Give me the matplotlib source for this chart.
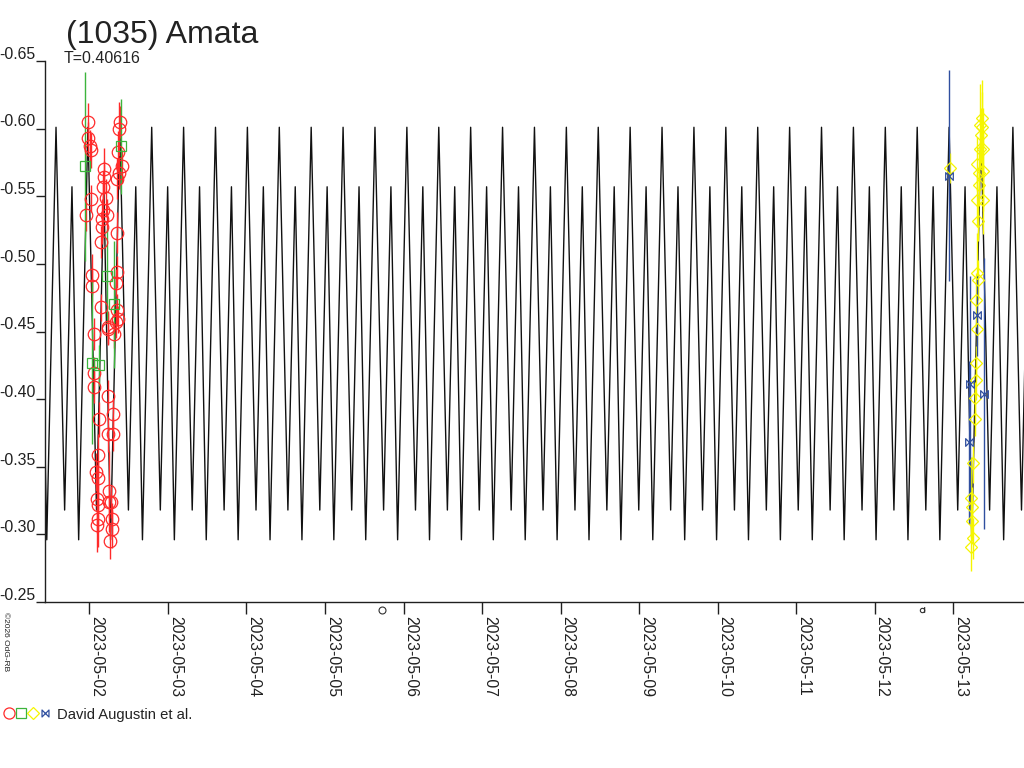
import numpy as np
import matplotlib
matplotlib.use("Agg")
import matplotlib.pyplot as plt
from matplotlib.path import Path
from matplotlib.lines import Line2D
from matplotlib.transforms import ScaledTranslation

plt.rcParams['font.family'] = ['Liberation Sans', 'DejaVu Sans']

# ---------------- data (time = days since 2023-05-02 00:00 UT) ----------------
TITLE = "(1035) Amata"
PERIOD_LABEL = "T=0.40616"
LC_PERIOD = 0.40616
LC_EPOCH = 4.855                      # time of a primary maximum
LC_PHASE = [0.0, 0.27, 0.50, 0.71, 1.0]
LC_MAG = [-0.601, -0.318, -0.557, -0.296, -0.601]

red_t = [-0.014, -0.022, 0.008, 0.020, 0.190, 0.190, 0.169, 0.020, 0.208, -0.047,
         0.177, 0.220, 0.157, 0.157, 0.148, 0.390, 0.381, 0.368, 0.411, 0.377,
         0.348, 0.348, 0.029, 0.037, 0.348, 0.335, 0.148, 0.348, 0.360, 0.241,
         0.059, 0.233, 0.317, 0.339, 0.059, 0.059, 0.241, 0.297, 0.122, 0.241,
         0.297, 0.113, 0.080, 0.113, 0.253, 0.101, 0.106, 0.250, 0.271, 0.106,
         0.093, 0.284, 0.284, 0.262]
red_mag = [-0.605, -0.593, -0.587, -0.584, -0.570, -0.564, -0.557, -0.548, -0.549, -0.536,
           -0.540, -0.536, -0.533, -0.527, -0.516, -0.605, -0.600, -0.583, -0.572, -0.567,
           -0.563, -0.523, -0.492, -0.484, -0.494, -0.486, -0.468, -0.466, -0.459, -0.453,
           -0.448, -0.452, -0.448, -0.457, -0.419, -0.409, -0.402, -0.389, -0.385, -0.374,
           -0.374, -0.359, -0.346, -0.342, -0.332, -0.326, -0.322, -0.324, -0.324, -0.311,
           -0.307, -0.311, -0.304, -0.295]
red_err = [0.014, 0.012, 0.012, 0.013, 0.016, 0.012, 0.012, 0.010, 0.014, 0.012,
           0.020, 0.012, 0.015, 0.012, 0.012, 0.012, 0.020, 0.015, 0.012, 0.012,
           0.015, 0.015, 0.015, 0.012, 0.012, 0.010, 0.010, 0.012, 0.010, 0.012,
           0.012, 0.012, 0.010, 0.012, 0.012, 0.012, 0.012, 0.012, 0.013, 0.013,
           0.012, 0.015, 0.014, 0.012, 0.030, 0.025, 0.020, 0.012, 0.012, 0.020,
           0.020, 0.012, 0.014, 0.013]

green_t = [-0.056, 0.402, 0.220, 0.313, 0.029, 0.122]
green_mag = [-0.572, -0.587, -0.491, -0.470, -0.427, -0.425]
green_err = [0.070, 0.035, 0.035, 0.047, 0.060, 0.015]

yellow_t = [10.959, 11.362, 11.341, 11.370, 11.350, 11.383, 11.341, 11.306, 11.383, 11.332,
            11.324, 11.299, 11.383, 11.316, 11.299, 11.316, 11.290, 11.299, 11.290, 11.290,
            11.277, 11.277, 11.256, 11.227, 11.243, 11.243, 11.248, 11.230]
yellow_mag = [-0.571, -0.608, -0.603, -0.601, -0.595, -0.585, -0.585, -0.574, -0.569, -0.567,
              -0.558, -0.547, -0.547, -0.532, -0.493, -0.488, -0.473, -0.452, -0.427, -0.414,
              -0.401, -0.385, -0.353, -0.327, -0.320, -0.310, -0.297, -0.291]
yellow_err = [0.011, 0.019, 0.030, 0.035, 0.020, 0.030, 0.015, 0.020, 0.030, 0.015,
              0.015, 0.020, 0.025, 0.015, 0.030, 0.015, 0.020, 0.012, 0.012, 0.015,
              0.012, 0.012, 0.015, 0.030, 0.015, 0.015, 0.015, 0.018]

blue_t = [10.942, 11.306, 11.213, 11.396, 11.205]
blue_mag = [-0.565, -0.462, -0.411, -0.404, -0.368]
blue_err = [0.078, 0.030, 0.080, 0.100, 0.060]

DATE_TICKS = list(range(12))
DATE_LABELS = ["2023-05-%02d" % d for d in range(2, 14)]
MAG_TICKS = [-0.65, -0.60, -0.55, -0.50, -0.45, -0.40, -0.35, -0.30, -0.25]
MAG_LABELS = ["-0.65", "-0.60", "-0.55", "-0.50", "-0.45", "-0.40", "-0.35", "-0.30", "-0.25"]
MOON_FULL_T = 3.73
MOON_QUARTER_T = 10.60
LEGEND_TEXT = "David Augustin et al."
COPYRIGHT = "\u00a92026 OdG-RB"

# ---------------- figure ----------------
W, H = 1024, 768
fig = plt.figure(figsize=(W / 100, H / 100), dpi=100)
ax = fig.add_axes([45 / W, 1 - 602 / H, 1 - 45 / W, (602 - 61) / H])

# model lightcurve: one period shape repeated over the plotted span
lc_x, lc_y = [], []
for n in range(-16, 20):
    for p, m in zip(LC_PHASE[:-1], LC_MAG[:-1]):
        lc_x.append(LC_EPOCH + (n + p) * LC_PERIOD)
        lc_y.append(m)
ax.plot(lc_x, lc_y, color='#111111', lw=1.0, zorder=2)

RED = '#ff2a2a'
GREEN = '#3cb43c'
YELLOW = '#f5f500'
BLUE = '#2f4f9f'

blue_marker = Path([(-1, -1), (-1, 1), (1, -1), (1, 1), (-1, -1)],
                   [Path.MOVETO, Path.LINETO, Path.LINETO, Path.LINETO, Path.CLOSEPOLY])

ax.errorbar(red_t, red_mag, yerr=red_err, fmt='none', ecolor=RED, elinewidth=1.0, capsize=0, zorder=3)
ax.errorbar(green_t, green_mag, yerr=green_err, fmt='none', ecolor=GREEN, elinewidth=1.0, capsize=0, zorder=3)
ax.errorbar(yellow_t, yellow_mag, yerr=yellow_err, fmt='none', ecolor=YELLOW, elinewidth=1.0, capsize=0, zorder=3)
ax.errorbar(blue_t, blue_mag, yerr=blue_err, fmt='none', ecolor=BLUE, elinewidth=1.0, capsize=0, zorder=3)

ax.plot(red_t, red_mag, 'o', ms=9, mfc='none', mec=RED, mew=0.9, zorder=4)
ax.plot(green_t, green_mag, 's', ms=7.5, mfc='none', mec=GREEN, mew=0.9, zorder=4)
ax.plot(yellow_t, yellow_mag, 'D', ms=6.5, mfc='none', mec=YELLOW, mew=0.9, zorder=4)
ax.plot(blue_t, blue_mag, marker=blue_marker, ls='none', ms=5.5, mfc='none', mec=BLUE, mew=0.9, zorder=4)

ax.set_xlim((45 - 89.4) / 78.53, (1024 - 89.4) / 78.53)
ax.set_ylim(-0.25, -0.65)

for s in ['top', 'right']:
    ax.spines[s].set_visible(False)
for s in ['left', 'bottom']:
    ax.spines[s].set_linewidth(1.0)
    ax.spines[s].set_color('#202020')

ax.set_yticks(MAG_TICKS)
ax.set_yticklabels(MAG_LABELS)
ax.tick_params(axis='y', direction='out', length=6.5, width=1.0, pad=0.3,
               labelsize=11.4, colors='#202020')
for lab in ax.get_yticklabels():
    lab.set_verticalalignment('baseline')
    lab.set_transform(lab.get_transform() + ScaledTranslation(0, 1.6 / 72, fig.dpi_scale_trans))

ax.set_xticks(DATE_TICKS)
ax.set_xticklabels(DATE_LABELS, rotation=-90, ha='left', va='top')
ax.tick_params(axis='x', direction='out', length=8.6, width=1.0, pad=1.5,
               labelsize=11.3, colors='#202020')

# moon phases
moon_quarter = Path(list(Path.unit_circle().vertices) + [(1, -1), (1, 1.6)],
                    list(Path.unit_circle().codes) + [Path.MOVETO, Path.LINETO])
trans = ax.get_xaxis_transform()
ax.plot([MOON_FULL_T], [-7.5 / 541], 'o', ms=5, mfc='none', mec='#303030', mew=0.8,
        transform=trans, clip_on=False)
ax.plot([MOON_QUARTER_T], [-7.5 / 541], marker=moon_quarter, ms=5, mfc='none', mec='#303030',
        mew=0.8, ls='none', transform=trans, clip_on=False)

# texts
fig.text(66 / W, 1 - 42.5 / H, TITLE, fontsize=23, color='#222222', va='baseline', ha='left')
fig.text(64 / W, 1 - 63 / H, PERIOD_LABEL, fontsize=11.5, color='#222222', va='baseline', ha='left')
fig.text(2 / W, 1 - 612 / H, COPYRIGHT, fontsize=6, rotation=-90, ha='left', va='top', color='#222222')

# legend
ly = 1 - 713 / H
for xpx, mk, col, ms in [(9, 'o', RED, 8), (21, 's', GREEN, 6.5), (33, 'D', YELLOW, 6), (45, blue_marker, BLUE, 5)]:
    fig.add_artist(Line2D([xpx / W], [ly], marker=mk, ms=ms, mfc='none', mec=col, mew=0.9,
                          ls='none', transform=fig.transFigure))
fig.text(57 / W, 1 - 718.5 / H, LEGEND_TEXT, fontsize=10.6, color='#222222', va='baseline', ha='left')

fig.savefig("out.png", dpi=100)
